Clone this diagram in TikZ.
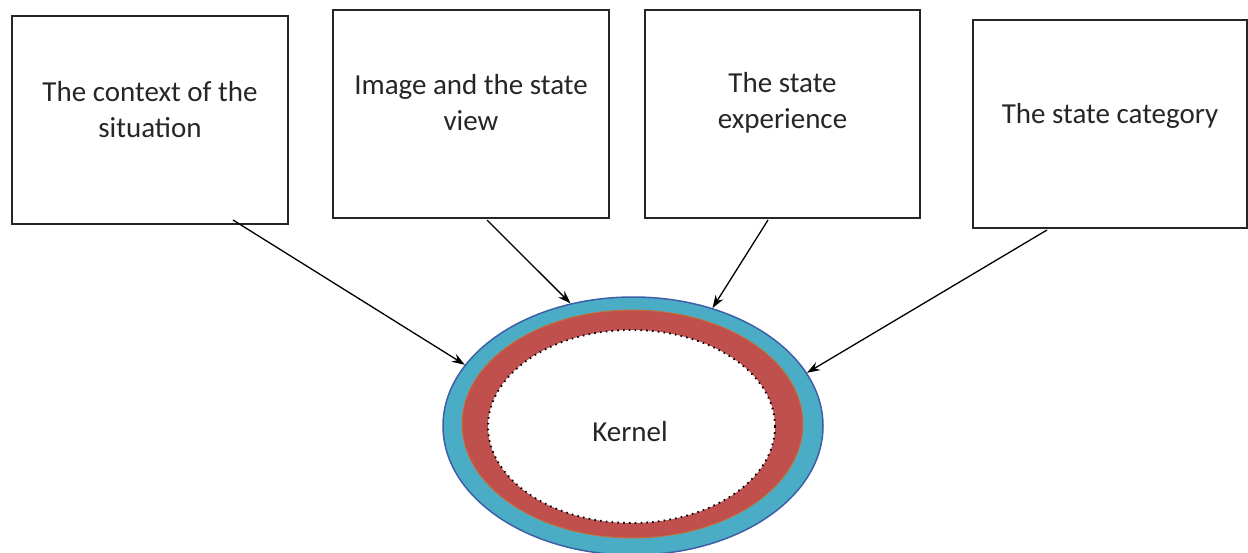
\documentclass[tikz,border=0pt]{standalone}
\usepackage{fontspec}
\setmainfont{Carlito}
\usetikzlibrary{shapes.geometric,arrows.meta}
\definecolor{teal1}{HTML}{4BACC6}
\definecolor{edge1}{HTML}{3E5FA8}
\definecolor{red1}{HTML}{C0504D}
\definecolor{orange1}{HTML}{C8722E}
\begin{document}
\begin{tikzpicture}[x=1pt,y=-1pt,
  box/.style={draw=black!85,line width=2pt,minimum width=276pt,minimum height=208pt,inner sep=0pt},
  lbl/.style={font=\fontsize{29}{36}\selectfont,align=center,text=black!85},
  arr/.style={line width=1.3pt,-{Stealth[length=13pt,width=9pt]}}]
\useasboundingbox (0,0) rectangle (1248,552);
\node[box] (b1) at (150,120) {};
\node[box] (b2) at (471,114) {};
\node[box,minimum width=275pt] (b3) at (782.5,114) {};
\node[box,minimum width=274pt] (b4) at (1110,124) {};
\node[lbl] (t1) at (150,110) {The context of the\\situation};
\node[lbl] (t2) at (471,103) {Image and the state\\view};
\node[lbl] (t3) at (782.5,103) {The state\\experience};
\node[lbl] (t4) at (1110,116) {The state category};
\node[ellipse,fill=teal1,draw=edge1,line width=1.5pt,minimum width=380pt,minimum height=258pt,inner sep=0pt] (ell) at (633,426) {};
\node[ellipse,fill=red1,draw=orange1,line width=0.8pt,minimum width=341pt,minimum height=228pt,inner sep=0pt] (red) at (632.5,424) {};
\node[ellipse,fill=white,draw=black,line width=1.8pt,dash pattern=on 1.6pt off 4.2pt,minimum width=287pt,minimum height=193pt,inner sep=0pt] (inner) at (631.5,426.5) {};
\node[lbl] (k) at (630,432) {Kernel};
\coordinate (s1) at (233,220);
\coordinate (s2) at (487,220);
\coordinate (s3) at (768,220);
\coordinate (s4) at (1047,230);
\draw[arr] (s1) -- (ell.160.7);
\draw[arr] (s2) -- (ell.117.6);
\draw[arr] (s3) -- (ell.56.2);
\draw[arr] (s4) -- (ell.17.5);
\end{tikzpicture}
\end{document}
